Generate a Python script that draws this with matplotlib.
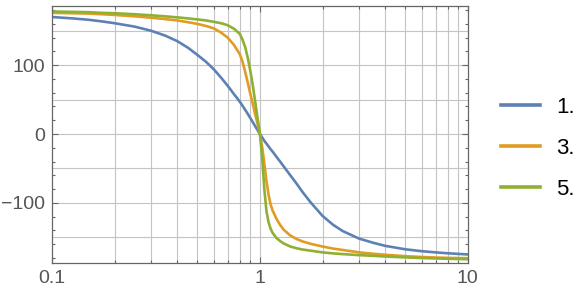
import matplotlib
matplotlib.use("Agg")
import matplotlib.pyplot as plt
from matplotlib.ticker import LogLocator, NullFormatter, MultipleLocator, FixedLocator

# data
freq = [0.1, 0.125, 0.15, 0.175, 0.2, 0.25, 0.3, 0.35, 0.4, 0.45, 0.5, 0.55, 0.6, 0.65, 0.7,
        0.75, 0.8, 0.825, 0.85, 0.875, 0.9, 0.925, 0.95, 0.975, 1.0, 1.025, 1.05, 1.075, 1.1,
        1.125, 1.15, 1.2, 1.25, 1.3, 1.4, 1.5, 1.6, 1.75, 2, 2.25, 2.5, 3, 3.5, 4, 5, 6, 7, 8, 10]

phase_1 = [170, 168, 166, 163.5, 161, 156, 150, 143, 135, 125.5, 115, 105, 94, 82, 70,
           58, 47, 41, 35, 29, 23, 17, 11, 5.5, 0, -5, -10, -14, -18,
           -22, -25.5, -33, -40, -47, -60, -72, -84, -99, -119, -132, -141, -152, -158, -162.5,
           -167.5, -170.3, -172, -173.3, -175]

phase_3 = [176, 175.5, 175, 174, 173, 171, 169, 167, 165, 162.5, 160, 157, 153.5, 147.5, 140,
           129.5, 116, 105, 90, 74, 58, 43, 28, 14, 0, -19, -43, -68, -88,
           -102, -111, -123, -132, -139, -147.5, -152.5, -156, -159.5, -163.5, -166.5, -168.5, -172, -174, -175.5,
           -177.5, -178.7, -179.5, -180, -180.5]

phase_5 = [178, 177.5, 177, 176, 175.5, 174, 172.5, 171, 169.5, 168, 166.5, 165, 163, 161, 158,
           153, 145.5, 137, 126, 110, 91, 70, 46, 22, 0, -34, -80, -112, -128,
           -137.5, -143.5, -151, -155.5, -159, -163.5, -166, -167.8, -169.5, -172, -173.5, -174.5, -176, -177, -178,
           -179.3, -180.2, -180.8, -181.3, -182]

labels = ["1.", "3.", "5."]
colors = ["#5e81b5", "#e19c24", "#8fb032"]

plt.rcParams['font.family'] = ['Liberation Sans', 'DejaVu Sans']

fig = plt.figure(figsize=(5.87, 2.95), dpi=100)
ax = fig.add_axes([52 / 587, 1 - 262.7 / 295, (467.85 - 52) / 587, (262.7 - 6) / 295])

for ys, lbl, c in zip([phase_1, phase_3, phase_5], labels, colors):
    ax.plot(freq, ys, color=c, lw=1.9, label=lbl, solid_joinstyle='round')

ax.set_xscale('log')
ax.set_xlim(0.1, 10)
ax.set_ylim(-187, 186)

# ticks
ax.xaxis.set_major_locator(FixedLocator([0.1, 1, 10]))
ax.xaxis.set_minor_locator(LogLocator(base=10, subs=range(2, 10)))
ax.xaxis.set_minor_formatter(NullFormatter())
ax.set_xticklabels(["0.1", "1", "10"])
ax.yaxis.set_major_locator(FixedLocator([-100, 0, 100]))
ax.yaxis.set_minor_locator(MultipleLocator(20))
ax.set_yticklabels(["\u2212100", "0", "100"])

# grid lines
for v in [0.1 * k for k in range(2, 10)] + [1.0] + [float(k) for k in range(2, 10)]:
    ax.axvline(v, color="#c4c4c4", lw=0.8, zorder=0)
for h in [-150, -100, -50, 0, 50, 100, 150]:
    ax.axhline(h, color="#c4c4c4", lw=0.8, zorder=0)

ax.tick_params(which='both', direction='in', top=True, right=True, color="#666666", width=0.8)
ax.tick_params(which='major', length=4.5, labelsize=14, labelcolor="#555555", pad=5)
ax.tick_params(which='minor', length=2.5)
for s in ax.spines.values():
    s.set_color("#666666")
    s.set_linewidth(0.9)

leg = fig.legend(loc='center left', bbox_to_anchor=(0.853, 0.497), frameon=False,
                 fontsize=16, handlelength=1.75, handletextpad=0.75, labelspacing=0.9,
                 borderpad=0, borderaxespad=0)
for line in leg.get_lines():
    line.set_linewidth(2.6)

fig.savefig("out.png", dpi=100)
